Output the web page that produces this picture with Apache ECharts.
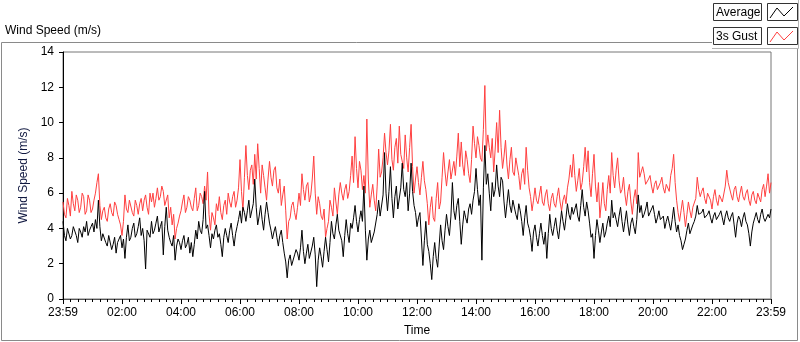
<!DOCTYPE html>
<html>
<head>
<meta charset="utf-8">
<script src="https://cdn.jsdelivr.net/npm/echarts@6/dist/echarts.min.js"></script>
<style>
html, body { margin: 0; padding: 0; background: #fff; }
#container { width: 800px; height: 342px; }
</style>
</head>
<body>
<div id="container"></div>
<script>
// one reading every 3 minutes, starting at 23:59
var stepMinutes = 3;

var xLabels = ['23:59', '02:00', '04:00', '06:00', '08:00', '10:00', '12:00',
	'14:00', '16:00', '18:00', '20:00', '22:00', '23:59'];

var gust = [
	5.5, 4.8, 4.6, 5.7, 5.3, 4.7, 6.1, 5.4, 5.0, 5.9, 5.6, 4.9, 5.2, 6.0, 5.8, 4.8, 5.0, 5.9, 5.6, 4.9,
	5.1, 5.6, 6.0, 6.6, 7.1, 5.3, 4.5, 5.0, 5.2, 4.6, 4.4, 5.1, 5.4, 4.9, 4.7, 5.5, 5.3, 4.8, 4.5, 4.2,
	3.6, 4.4, 5.9, 5.1, 4.9, 5.6, 5.5, 4.9, 4.7, 5.6, 5.3, 4.8, 5.4, 5.7, 5.0, 5.6, 5.9, 5.2, 4.8, 6.0,
	5.5, 6.0, 5.2, 5.7, 6.3, 5.6, 5.8, 6.4, 6.1, 5.3, 5.4, 5.9, 4.6, 5.2, 4.2, 4.8, 3.4, 4.0, 4.3, 4.7,
	5.0, 5.5, 5.9, 4.9, 5.2, 5.8, 5.6, 5.2, 5.0, 5.7, 6.3, 5.0, 5.3, 6.0, 5.8, 5.4, 6.4, 5.6, 7.2, 4.8,
	3.9, 4.9, 4.6, 4.2, 5.4, 5.0, 5.8, 4.9, 4.5, 5.3, 5.6, 4.8, 6.0, 5.5, 5.2, 5.8, 6.1, 5.2, 5.6, 6.3,
	7.9, 6.1, 5.0, 6.9, 8.7, 7.0, 6.2, 7.3, 7.6, 6.5, 8.2, 6.8, 8.8, 7.4, 6.0, 7.6, 7.0, 6.3, 5.6, 6.8,
	7.8, 6.9, 6.4, 7.3, 7.5, 6.3, 6.0, 6.8, 5.3, 5.9, 6.4, 5.0, 3.4, 4.4, 4.6, 5.3, 5.5, 4.9, 4.5, 5.2,
	6.0, 5.3, 7.1, 6.2, 5.6, 6.4, 6.6, 5.5, 5.9, 6.8, 8.1, 6.0, 4.8, 5.8, 5.4, 4.7, 4.5, 5.1, 3.5, 4.0,
	4.4, 5.6, 5.2, 4.7, 6.3, 5.5, 4.8, 5.9, 6.6, 6.0, 5.6, 6.2, 6.5, 5.7, 6.1, 7.0, 8.1, 6.6, 9.2, 7.4,
	6.3, 7.8, 7.3, 6.2, 7.0, 6.0, 10.2, 6.8, 5.2, 5.9, 6.5, 5.6, 5.0, 6.4, 8.5, 6.9, 7.2, 8.0, 9.4, 8.3,
	7.6, 8.4, 9.9, 7.9, 7.3, 8.6, 9.1, 7.7, 9.8, 8.2, 8.3, 7.4, 9.3, 8.0, 7.2, 8.6, 9.9, 7.5, 6.0, 6.8,
	7.5, 6.6, 5.9, 6.9, 7.8, 6.7, 6.2, 5.4, 4.2, 5.2, 5.8, 4.6, 4.4, 5.7, 6.6, 5.1, 5.5, 6.9, 8.3, 7.2,
	6.4, 7.2, 7.9, 6.8, 6.9, 7.8, 7.0, 8.1, 9.4, 7.5, 8.9, 7.6, 7.0, 8.4, 7.9, 7.1, 6.6, 7.9, 9.8, 8.8,
	8.0, 9.2, 8.7, 8.0, 7.8, 9.6, 12.1, 8.4, 9.3, 8.6, 8.0, 9.1, 7.2, 8.5, 10.0, 8.3, 10.7, 8.6, 7.4, 8.1,
	9.0, 7.6, 6.8, 7.9, 8.6, 7.2, 7.0, 8.0, 8.1, 7.0, 6.2, 7.1, 7.4, 6.5, 8.6, 7.3, 6.3, 5.8, 5.0, 5.6,
	6.3, 5.6, 5.4, 5.9, 6.4, 5.5, 5.3, 5.9, 6.2, 5.4, 5.0, 5.7, 6.0, 5.4, 5.2, 5.8, 6.3, 5.5, 5.0, 5.6,
	5.9, 5.4, 6.3, 6.8, 7.6, 6.9, 8.2, 7.0, 6.1, 6.7, 7.4, 6.2, 6.6, 7.5, 8.6, 7.2, 8.4, 6.6, 5.8, 7.1,
	8.2, 6.4, 5.5, 6.6, 4.6, 5.5, 6.6, 5.4, 5.0, 6.2, 7.0, 6.0, 8.3, 7.0, 6.3, 7.3, 8.0, 6.7, 6.0, 6.2,
	6.9, 5.9, 5.3, 6.1, 6.5, 5.5, 4.8, 5.7, 6.2, 5.4, 8.3, 6.9, 6.8, 7.5, 7.1, 6.5, 6.4, 6.8, 7.0, 6.4,
	6.0, 6.5, 6.7, 6.2, 6.1, 6.6, 6.9, 6.3, 6.0, 6.5, 6.6, 6.1, 7.0, 7.4, 8.2, 6.6, 5.6, 4.9, 4.4, 5.0,
	5.6, 4.9, 4.1, 4.8, 5.5, 5.0, 4.6, 5.2, 5.3, 5.7, 6.9, 6.2, 5.8, 6.1, 6.3, 5.7, 5.4, 6.0, 6.1, 5.6,
	5.1, 5.8, 6.2, 5.6, 5.3, 5.9, 6.0, 5.5, 5.4, 6.4, 7.3, 6.6, 6.5, 5.9, 5.6, 6.2, 6.4, 5.8, 5.5, 6.0,
	6.4, 5.8, 5.6, 6.0, 6.2, 5.6, 5.3, 5.9, 6.1, 5.6, 5.4, 6.0, 5.9, 5.5, 6.2, 6.5, 5.8, 6.4, 7.1, 6.0,
	6.6
];

var average = [
	4.4, 3.6, 3.3, 4.0, 3.9, 3.4, 3.6, 4.1, 4.2, 3.6, 3.2, 4.0, 3.8, 3.5, 4.1, 3.8, 4.4, 3.6, 3.9, 4.1,
	4.3, 3.8, 4.5, 4.0, 5.6, 4.1, 3.3, 3.7, 3.6, 3.2, 3.0, 3.6, 3.5, 2.8, 3.1, 3.5, 2.6, 3.2, 3.4, 3.6,
	2.9, 3.4, 2.3, 3.5, 4.2, 3.3, 3.5, 4.0, 4.3, 3.5, 3.7, 4.1, 4.6, 3.6, 4.0, 3.3, 1.7, 3.9, 3.8, 3.5,
	4.4, 3.7, 3.9, 4.3, 4.7, 3.8, 4.1, 4.4, 2.5, 4.1, 5.2, 3.9, 3.5, 3.2, 3.0, 3.6, 2.2, 3.0, 3.4, 3.2,
	2.8, 3.3, 3.6, 2.9, 3.1, 3.5, 2.6, 3.2, 2.4, 3.1, 3.9, 3.4, 4.4, 3.9, 3.7, 4.5, 6.1, 4.0, 4.2, 3.6,
	2.9, 3.7, 3.4, 3.9, 4.2, 3.5, 3.7, 3.1, 2.4, 3.5, 4.0, 3.6, 3.2, 3.9, 4.3, 3.6, 3.0, 3.7, 4.1, 4.5,
	5.0, 4.3, 5.2, 4.9, 4.4, 5.0, 5.6, 4.6, 4.5, 5.4, 6.8, 5.2, 4.2, 4.7, 5.3, 4.5, 3.9, 4.8, 5.5, 4.9,
	4.3, 3.9, 3.4, 3.8, 4.1, 3.5, 3.0, 3.6, 3.9, 3.2, 2.6, 2.1, 1.2, 2.2, 2.5, 1.9, 1.8, 2.5, 2.8, 2.6,
	2.2, 2.9, 3.9, 2.7, 2.0, 2.6, 3.1, 2.3, 2.4, 3.0, 3.5, 2.5, 0.7, 2.2, 2.9, 2.4, 1.8, 2.7, 3.5, 2.8,
	2.1, 3.2, 4.4, 3.7, 3.4, 4.2, 4.8, 3.9, 3.8, 3.3, 2.4, 3.6, 4.5, 3.7, 3.2, 4.3, 4.0, 4.6, 5.3, 4.4,
	3.8, 4.5, 5.0, 4.4, 6.4, 3.9, 2.2, 3.4, 3.9, 3.2, 3.1, 3.8, 3.7, 4.8, 5.6, 4.7, 4.6, 5.9, 8.3, 6.0,
	5.0, 6.1, 7.5, 5.7, 4.6, 5.8, 6.4, 5.1, 5.2, 6.3, 7.7, 6.2, 5.8, 6.6, 5.0, 6.0, 7.7, 6.1, 5.3, 4.9,
	4.1, 4.6, 4.9, 3.4, 1.9, 3.3, 4.4, 3.1, 2.7, 2.0, 1.1, 2.4, 3.2, 2.3, 1.8, 3.0, 4.2, 3.3, 2.8, 3.9,
	4.8, 4.1, 3.6, 4.7, 6.6, 5.0, 4.5, 5.3, 5.7, 4.4, 3.1, 4.2, 5.0, 4.6, 4.3, 5.1, 5.4, 4.8, 5.6, 6.1,
	7.4, 6.2, 5.3, 5.9, 2.2, 6.3, 8.7, 6.5, 7.1, 6.0, 5.0, 6.6, 5.8, 6.2, 7.6, 6.4, 5.8, 6.9, 6.7, 5.5,
	4.6, 5.4, 6.2, 5.3, 4.9, 5.6, 5.7, 4.8, 4.5, 5.4, 5.0, 4.4, 3.6, 4.6, 5.3, 4.3, 4.0, 3.5, 2.7, 3.8,
	4.2, 3.5, 3.0, 3.7, 4.3, 3.6, 3.1, 3.8, 2.3, 3.7, 4.8, 4.0, 3.6, 4.1, 4.6, 3.9, 3.4, 4.2, 5.0, 4.4,
	3.9, 4.6, 5.4, 4.8, 4.5, 5.2, 4.8, 5.1, 5.4, 4.7, 4.4, 5.3, 6.2, 5.2, 4.7, 5.5, 5.0, 4.3, 3.5, 3.7,
	2.3, 3.6, 4.5, 3.9, 3.2, 3.8, 4.3, 3.5, 3.8, 4.3, 4.7, 4.1, 5.6, 4.6, 4.9, 4.5, 4.1, 4.7, 5.2, 4.4,
	3.8, 4.4, 5.0, 4.2, 3.6, 4.3, 4.6, 4.1, 3.7, 4.5, 5.9, 4.9, 5.3, 4.6, 4.8, 5.1, 5.5, 4.7, 4.9, 5.0,
	5.3, 4.8, 4.3, 4.6, 5.0, 4.5, 4.4, 4.7, 4.0, 4.4, 4.7, 4.3, 3.9, 4.5, 5.2, 4.4, 3.8, 4.2, 3.6, 3.3,
	2.8, 3.1, 3.4, 3.9, 4.3, 3.7, 3.8, 4.2, 4.4, 4.7, 5.3, 4.8, 4.7, 4.9, 5.1, 4.6, 4.5, 4.8, 5.0, 4.6,
	4.3, 4.7, 4.9, 4.5, 4.4, 4.8, 5.0, 4.6, 4.2, 4.7, 5.0, 4.6, 4.4, 4.7, 4.9, 4.2, 3.5, 4.3, 4.7, 4.5,
	4.1, 4.6, 4.9, 4.4, 4.2, 3.7, 3.0, 3.8, 4.3, 4.6, 4.9, 4.5, 4.3, 4.8, 5.1, 4.6, 4.4, 4.3, 4.8, 4.6,
	5.1
];

var font = 'Liberation Sans, Arial, sans-serif';

// pair every reading with its minute offset
function toPoints(values) {
	return values.map(function (v, i) {
		return [i * stepMinutes, v];
	});
}

// legend zigzag icon inside a small framed box
function legendEntry(top, label, color) {
	return [{
		type: 'rect',
		shape: { x: 713.5, y: top + 0.5, width: 48, height: 17 },
		style: { fill: '#fdfdfd', stroke: '#333', lineWidth: 1 }
	}, {
		type: 'text',
		x: 716, y: top + 9.5,
		style: { text: label, font: '12px ' + font, fill: '#000', verticalAlign: 'middle' }
	}, {
		type: 'rect',
		shape: { x: 767.5, y: top + 0.5, width: 30, height: 17 },
		style: { fill: '#fff', stroke: '#333', lineWidth: 1 }
	}, {
		type: 'polyline',
		shape: { points: [[770, top + 15], [777, top + 5], [784, top + 13], [793, top + 4]] },
		style: { stroke: color, lineWidth: 1, fill: null }
	}];
}

function drawChart() {
	var dom = document.getElementById('container');
	var myChart = echarts.init(dom, null, { renderer: 'canvas' });

	var graphics = [{
		type: 'text',
		x: 5, y: 31,
		style: { text: 'Wind Speed (m/s)', font: '12px ' + font, fill: '#000', verticalAlign: 'middle' }
	}, {
		// outer frame of the chart
		type: 'polyline',
		shape: { points: [[712, 42.5], [1.5, 42.5], [1.5, 340.5], [797.5, 340.5], [797.5, 48]] },
		style: { stroke: '#8a8a8a', lineWidth: 1, fill: null }
	}, {
		// legend panel edge
		type: 'polyline',
		shape: { points: [[712, 48.5], [798.5, 48.5], [798.5, 0]] },
		style: { stroke: '#b4b4b4', lineWidth: 1, fill: null }
	}];
	graphics = graphics.concat(legendEntry(3, 'Average', '#000'));
	graphics = graphics.concat(legendEntry(27, '3s Gust', '#ff4040'));

	var option = {
		animation: false,
		backgroundColor: '#fff',
		textStyle: { fontFamily: font },
		graphic: graphics,
		grid: {
			left: 63,
			right: 29,
			top: 52,
			bottom: 40,
			show: true,
			borderColor: '#777',
			borderWidth: 1
		},
		xAxis: {
			type: 'value',
			min: 0,
			max: 1440,
			interval: 120,
			name: 'Time',
			nameLocation: 'middle',
			nameGap: 26,
			nameTextStyle: { color: '#000', fontSize: 12, fontFamily: font },
			axisLine: { show: true, lineStyle: { color: '#555' } },
			axisTick: { show: true, length: 5, lineStyle: { color: '#000' } },
			minorTick: { show: true, splitNumber: 8, length: 3, lineStyle: { color: '#000' } },
			axisLabel: {
				margin: 8,
				color: '#000',
				fontSize: 12,
				fontFamily: font,
				formatter: function (v) {
					return xLabels[Math.round(v / 120)];
				}
			},
			splitLine: { show: false }
		},
		yAxis: {
			type: 'value',
			min: 0,
			max: 14,
			interval: 2,
			name: 'Wind Speed (m/s)',
			nameLocation: 'middle',
			nameGap: 28,
			nameTextStyle: { color: '#101840', fontSize: 12, fontFamily: font },
			axisLine: { show: true, lineStyle: { color: '#000' } },
			axisTick: { show: true, length: 4, lineStyle: { color: '#000' } },
			axisLabel: { margin: 9, color: '#000', fontSize: 12, fontFamily: font },
			splitLine: { show: false }
		},
		series: [{
			name: '3s Gust',
			type: 'line',
			showSymbol: false,
			symbol: 'none',
			lineStyle: { color: '#ff4040', width: 1 },
			data: toPoints(gust)
		}, {
			name: 'Average',
			type: 'line',
			showSymbol: false,
			symbol: 'none',
			lineStyle: { color: '#000', width: 1 },
			data: toPoints(average)
		}]
	};
	myChart.setOption(option, true);
}

window.onload = drawChart;
</script>
</body>
</html>
